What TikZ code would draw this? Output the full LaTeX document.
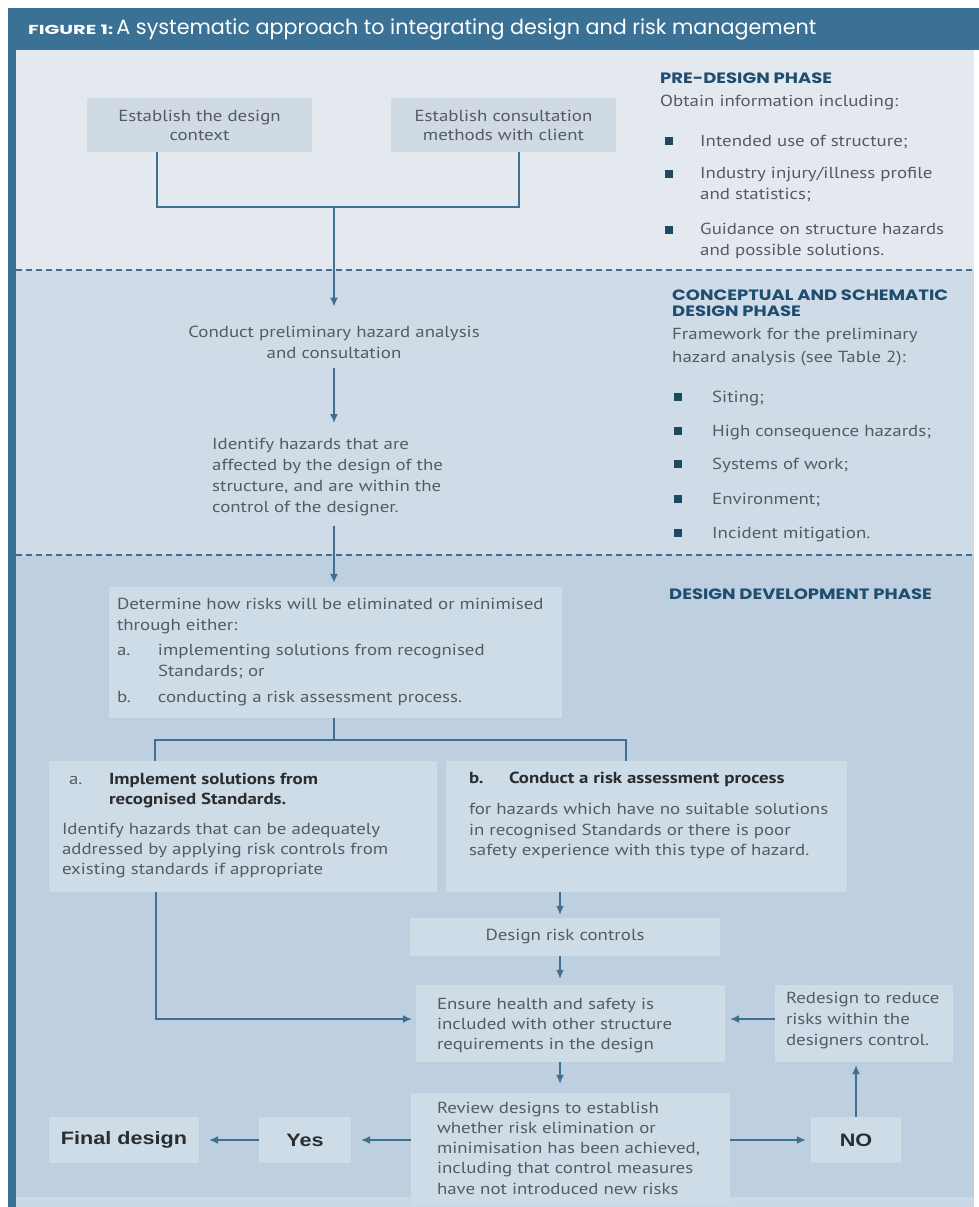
\documentclass[tikz,border=0pt]{standalone}
\usepackage{fontspec}
\setmainfont[FakeStretch=1.18]{PT Sans}
\newfontfamily\titlefont{Poppins}
\newfontfamily\figfont[FakeStretch=1.5]{Poppins}
\newfontfamily\headfont[FakeStretch=1.2]{Poppins}
\newfontfamily\labelfont[FakeStretch=1.2]{Liberation Sans}
\usetikzlibrary{arrows.meta}
\definecolor{hdr}{HTML}{3B7194}
\definecolor{prebg}{HTML}{E3E9EF}
\definecolor{prebox}{HTML}{CFDAE5}
\definecolor{concbg}{HTML}{CFDCE8}
\definecolor{devbg}{HTML}{BED0DF}
\definecolor{devbot}{HTML}{CAD9E5}
\definecolor{devbox}{HTML}{CEDCE8}
\definecolor{linec}{HTML}{3F6F91}
\definecolor{txtgray}{HTML}{555B61}
\definecolor{headc}{HTML}{1F4D70}
\definecolor{bulc}{HTML}{1D4A60}
\definecolor{darktxt}{HTML}{2A2C2E}
\newcommand{\bodyfont}{\fontsize{16}{21}\selectfont}
\newcommand{\bx}[1]{\makebox[#1][l]}
\begin{document}
\begin{tikzpicture}[x=1pt,y=-1pt,
  box/.style={fill=devbox, draw=none, inner sep=0pt, text=txtgray, font=\bodyfont},
  txt/.style={inner sep=0pt, text=txtgray, font=\bodyfont},
  ln/.style={draw=linec, line width=1.4pt},
  arr/.style={draw=linec, line width=1.4pt, -{Latex[length=9pt,width=8pt]}},
  head/.style={inner sep=0pt, text=headc, font=\headfont\bfseries\fontsize{15}{16}\selectfont, anchor=base west, align=left},
  bul/.style={fill=bulc, draw=none, minimum size=8pt, inner sep=0pt},
  big/.style={fill=devbox, inner sep=0pt, text=darktxt, font=\labelfont\bfseries\fontsize{18}{20}\selectfont, minimum height=46pt},
  phase/.style={draw=linec, line width=1.5pt, dash pattern=on 6pt off 4pt}
]
\useasboundingbox (0,0) rectangle (979,1207);
\fill[white] (0,0) rectangle (979,1207);
% regions
\fill[devbg] (16,555) rectangle (974,1197);
\fill[devbot] (16,1197) rectangle (974,1207);
\fill[concbg] (16,270) rectangle (974,555);
\fill[prebg] (16,50) rectangle (974,270);
\fill[hdr] (8,8) rectangle (979,50);
\fill[hdr] (8,8) rectangle (16,1207);
\draw[phase] (16,270) -- (974,270);
\draw[phase] (16,555) -- (974,555);
% title
\node[inner sep=0pt, anchor=base west, text=white] (title) at (28,35)
  {{\figfont\bfseries\fontsize{13}{14}\selectfont FIGURE 1:}\hspace{3pt}{\titlefont\fontsize{20.7}{22}\selectfont A systematic approach to integrating design and risk management}};

% ---------- pre-design phase ----------
\node[box, fill=prebox, minimum width=225pt, minimum height=54pt, align=center, font=\fontsize{16}{19}\selectfont] (ctx) at (199.5,125) {Establish the design\\context};
\node[box, fill=prebox, minimum width=225pt, minimum height=54pt, align=center, font=\fontsize{16}{19}\selectfont] (cons) at (503.5,125) {Establish consultation\\methods with client};
\coordinate (ja) at (157,207);
\coordinate (jb) at (519,207);
\coordinate (j1) at (334,207);
\draw[ln] (ctx.south -| ja) -- (ja) -- (jb) -- (cons.south -| jb);

\node[head] (hpre) at (660,83) {PRE-DESIGN PHASE};
\node[txt, anchor=base west] (tpre) at (660,106) {Obtain information including:};
\node[bul] (b1) at (669,141) {};
\node[txt, anchor=base west] (l1) at (700,146) {Intended use of structure;};
\node[bul] (b2) at (669,174) {};
\node[txt, anchor=north west, align=left] (l2) at (700,167) {Industry injury/illness profile\\and statistics;};
\node[bul] (b3) at (669,230) {};
\node[txt, anchor=north west, align=left] (l3) at (700,223) {Guidance on structure hazards\\and possible solutions.};

% ---------- conceptual phase ----------
\node[txt, align=center] (conduct) at (334,342) {Conduct preliminary hazard analysis\\and consultation};
\draw[arr, shorten >=19pt] (j1) -- (conduct.north -| j1);
\node[txt, anchor=north west, align=left] (identify) at (212,438) {Identify hazards that are\\affected by the design of the\\structure, and are within the\\control of the designer.};
\draw[arr, shorten <=10pt, shorten >=15pt] (conduct.south -| j1) -- (identify.north -| j1);

\node[head] (hcon) at (672,316) {CONCEPTUAL AND SCHEMATIC\\DESIGN PHASE};
\node[txt, anchor=north west, align=left, font=\fontsize{16}{23}\selectfont] (tcon) at (672,328) {Framework for the preliminary\\hazard analysis (see Table 2):};
\node[bul] (c1) at (678,397) {};
\node[txt, anchor=base west] (m1) at (712,402) {Siting;};
\node[bul] (c2) at (678,431) {};
\node[txt, anchor=base west] (m2) at (712,436) {High consequence hazards;};
\node[bul] (c3) at (678,464) {};
\node[txt, anchor=base west] (m3) at (712,469) {Systems of work;};
\node[bul] (c4) at (678,499) {};
\node[txt, anchor=base west] (m4) at (712,504) {Environment;};
\node[bul] (c5) at (678,533) {};
\node[txt, anchor=base west] (m5) at (712,538) {Incident mitigation.};

% ---------- design development phase ----------
\node[head] (hdev) at (669,599) {DESIGN DEVELOPMENT PHASE};

\node[box, minimum width=453pt, minimum height=131pt] (det) at (335.5,652.5) {};
\node[txt, anchor=west, align=left] (dett) at ([xshift=8pt]det.west)
  {Determine how risks will be eliminated or minimised\\
   through either:\\[4pt]
   \bx{41pt}{a.}implementing solutions from recognised\\
   \hspace*{41pt}Standards; or\\[5pt]
   \bx{41pt}{b.}conducting a risk assessment process.};
\draw[arr, shorten <=10pt, shorten >=4pt] (identify.south -| j1) -- (det.north -| j1);

\coordinate (j2) at (334,740);
\coordinate (ja2) at (155,740);
\coordinate (jb2) at (626,740);

\node[box, minimum width=388pt, minimum height=131pt] (boxA) at (243,826.5) {};
\node[txt, anchor=west, align=left, font=\fontsize{16}{20}\selectfont] (boxAt) at ([xshift=13pt,yshift=1pt]boxA.west)
  {\hspace*{7pt}\bx{40pt}{a.}\textcolor{darktxt}{\textbf{Implement solutions from}}\\
   \hspace*{47pt}\textcolor{darktxt}{\textbf{recognised Standards.}}\\[10pt]
   Identify hazards that can be adequately\\
   addressed by applying risk controls from\\
   existing standards if appropriate};
\node[box, minimum width=401pt, minimum height=131pt] (boxB) at (646.5,826.5) {};
\node[txt, anchor=north west, align=left, font=\fontsize{16}{20.5}\selectfont] (boxBt) at ([xshift=23pt,yshift=-11pt]boxB.north west)
  {\bx{40pt}{\textcolor{darktxt}{\textbf{b.}}}\textcolor{darktxt}{\textbf{Conduct a risk assessment process}}\\[11pt]
   for hazards which have no suitable solutions\\
   in recognised Standards or there is poor\\
   safety experience with this type of hazard.};

\draw[ln] (det.south -| j2) -- (j2);
\draw[ln] (boxA.north -| ja2) -- (ja2) -- (jb2) -- (boxB.north -| jb2);

\coordinate (colc) at (560,900);
\node[box, minimum width=310pt, minimum height=38pt] (drc) at (565,937) {Design risk controls};
\draw[arr, shorten >=3pt] (boxB.south -| colc) -- (drc.north -| colc);

\node[box, minimum width=309pt, minimum height=77pt] (ensure) at (570.5,1023.5) {};
\node[txt, anchor=west, align=left, font=\fontsize{16}{20}\selectfont] (ensuret) at ([xshift=21pt,yshift=-2pt]ensure.west)
  {Ensure health and safety is\\included with other structure\\requirements in the design};
\draw[arr, shorten >=6pt] (drc.south -| colc) -- (ensure.north -| colc);

\node[box, minimum width=178pt, minimum height=77pt] (redesign) at (864,1023.5) {};
\node[txt, anchor=west, align=left, font=\fontsize{16}{21}\selectfont] (redesignt) at ([xshift=11pt,yshift=3pt]redesign.west)
  {Redesign to reduce\\risks within the\\designers control.};

\coordinate (colA) at (156,1019);
\draw[arr, shorten >=4pt] (boxA.south -| colA) -- (colA) -- (ensure.west |- colA);
\draw[arr, shorten >=5pt] (redesign.west |- colA) -- (ensure.east |- colA);

\node[box, minimum width=319pt, minimum height=112pt] (review) at (570.5,1149) {};
\node[txt, anchor=west, align=left, font=\fontsize{16}{20.25}\selectfont] (reviewt) at ([xshift=26pt,yshift=1pt]review.west)
  {Review designs to establish\\whether risk elimination or\\minimisation has been achieved,\\including that control measures\\have not introduced new risks};
\draw[arr, shorten >=9pt] (ensure.south -| colc) -- (review.north -| colc);

\coordinate (rowY) at (500,1140);
\node[big, minimum width=90pt] (no) at (856,1140) {NO};
\node[big, minimum width=92pt] (yes) at (305,1140) {Yes};
\node[big, minimum width=150pt] (final) at (124,1140) {Final design};
\draw[arr, shorten >=10pt] (review.west |- rowY) -- (yes.east |- rowY);
\draw[arr, shorten >=10pt] (yes.west) -- (final.east);
\draw[arr, shorten >=5pt] (review.east |- rowY) -- (no.west |- rowY);
\draw[arr, shorten >=3pt] (no.north) -- (redesign.south -| no.north);
\end{tikzpicture}
\end{document}
